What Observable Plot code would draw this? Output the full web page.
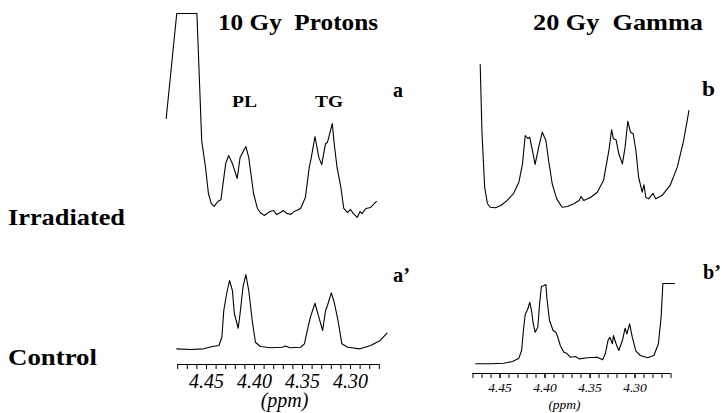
<!DOCTYPE html>
<html><head><meta charset="utf-8">
<script src="https://cdn.jsdelivr.net/npm/d3@7"></script>
<script src="https://cdn.jsdelivr.net/npm/@observablehq/plot@0.6"></script>
<style>
body{margin:0;background:#fff;}
#fig{position:relative;width:722px;height:413px;overflow:hidden;background:#fff;}
.lab{position:absolute;font-family:"Liberation Serif","Times New Roman",serif;font-weight:bold;line-height:1;white-space:pre;color:#000;transform-origin:0 0;}
.panel{position:absolute;}
</style></head><body><div id="fig"></div>
<script>
// ---- Data (chemical shift in ppm, intensity in arbitrary units) ----
// (a) 10 Gy protons, irradiated
const ppmA = [4.492,4.481,4.460,4.455,4.451,4.448,4.445,4.442,4.438,4.435,4.430,4.427,4.423,4.418,4.415,4.409,4.406,4.401,4.397,4.394,4.390,4.387,4.384,4.380,4.377,4.373,4.370,4.366,4.362,4.359,4.356,4.352,4.347,4.343,4.341,4.337,4.333,4.330,4.326,4.324,4.319,4.317,4.314,4.310,4.307,4.303,4.300,4.297,4.293,4.290,4.288,4.284,4.279,4.273];
const intA = [48.8,100,100,38,24.9,12.2,7.3,5.9,8.4,9.1,26.8,30.7,26.8,19.5,29.8,35.1,29.8,12.2,4.9,2.9,1.5,2.4,3.4,3.9,1.9,2.9,3.9,2.4,2.0,3.4,3.9,4.9,10.2,24.9,29.3,40,29.8,26.3,36.6,37.1,46.3,36.6,24.9,15.1,4.9,2.9,4.4,2.4,0.5,3.4,2.4,4.9,5.4,8.3];
// (a') protons, control
const ppmA2 = [4.481,4.467,4.453,4.444,4.437,4.434,4.432,4.429,4.426,4.423,4.421,4.417,4.415,4.412,4.409,4.406,4.402,4.399,4.394,4.383,4.371,4.368,4.363,4.352,4.348,4.345,4.342,4.337,4.333,4.329,4.326,4.324,4.320,4.317,4.313,4.309,4.303,4.290,4.279,4.269,4.262];
const intA2 = [2.2,1.3,2.2,5.3,6.6,17.5,52.6,75,92.1,78.9,48.7,29.3,48.7,83.3,100,78.9,35.5,10.9,5.3,3.6,4.3,5.9,3.6,4.3,8.8,26.3,43,62.2,43.8,26.3,52.6,59.2,75.9,63.6,39.5,8.8,4.3,2.2,6.6,13.2,22.8];
// (b) 20 Gy gamma, irradiated
const ppmB = [4.472,4.470,4.467,4.464,4.461,4.455,4.449,4.442,4.435,4.429,4.425,4.422,4.419,4.417,4.414,4.411,4.407,4.403,4.399,4.396,4.392,4.387,4.381,4.375,4.368,4.362,4.360,4.357,4.349,4.342,4.335,4.329,4.326,4.324,4.321,4.318,4.314,4.311,4.308,4.305,4.302,4.299,4.296,4.292,4.290,4.288,4.285,4.280,4.277,4.270,4.261,4.253,4.246,4.240];
const intB = [100,52.1,14.6,3.5,0.9,0.5,2.1,5.6,10.4,18.3,31.0,50.7,48.6,49.5,40.3,30.6,42.6,53.0,47.2,33.3,17.2,6.7,0.9,1.4,3.3,5.6,8.3,5.6,7.8,11.3,19.4,40.3,54.7,48.4,47.7,38.0,31.0,42.6,60.6,53.0,51.9,40.3,21.7,11.3,16.5,7.8,6.7,10.6,6.7,9.0,16.0,28.7,47.2,68.1];
// (b') gamma, control
const ppmB2 = [4.477,4.461,4.446,4.436,4.429,4.426,4.424,4.422,4.419,4.417,4.415,4.413,4.411,4.408,4.406,4.404,4.401,4.399,4.398,4.395,4.391,4.388,4.386,4.383,4.379,4.376,4.372,4.366,4.362,4.353,4.342,4.336,4.333,4.330,4.328,4.325,4.324,4.321,4.318,4.314,4.311,4.309,4.306,4.303,4.299,4.294,4.286,4.279,4.274,4.271,4.269,4.264,4.256];
const intB2 = [0.9,0.9,1.6,3.7,7.8,17.3,42.0,61.7,68.8,76.9,66.7,50.2,39.9,46.0,74.9,96.3,97.5,98.8,83.1,54.3,42.0,39.9,34.6,23.5,15.2,14.0,9.0,9.9,7.0,8.3,9.0,5.8,13.2,29.6,33.7,25.6,35.8,25.6,17.3,29.6,44.8,37.9,50.2,33.7,16.4,11.1,8.3,11.1,25.6,58.4,100,100,100];
// axis ticks
const majorTicks = [4.45, 4.40, 4.35, 4.30];
const minorTicksLeft = d3.range(427, 449).map(d => d / 100);
const minorTicksRight = d3.range(426, 449).map(d => d / 100);
const axisLabel = "(ppm)";

const fig = document.getElementById("fig");
const serif = "'Liberation Serif','Times New Roman',serif";

function panel(c) {
  const data = c.ppm.map((p, k) => ({ppm: p, i: c.inten[k]}));
  const marks = [Plot.line(data, {x: "ppm", y: "i", stroke: "#000", strokeWidth: 1.1})];
  if (c.ticks) {
    const t = c.ticks;
    marks.push(Plot.ruleY([{y: c.yDomain[0], x1: d3.max(t), x2: d3.min(t)}], {y: "y", x1: "x1", x2: "x2", stroke: "#000", strokeWidth: 1}));
    marks.push(Plot.axisX(t, {tickSize: c.tickSize, tickFormat: () => "", label: null}));
    marks.push(Plot.axisX(majorTicks, {tickSize: c.tickSize, tickPadding: c.tickPadding, tickFormat: d => d.toFixed(2), fontSize: c.fontSize, fontStyle: "italic", fontFamily: serif, label: null}));
    marks.push(Plot.text([axisLabel], {frameAnchor: "bottom", text: d => d, dx: c.labelDx, dy: c.labelDy, fontSize: c.labelSize, fontStyle: "italic", fontFamily: serif, fill: "#000"}));
  }
  const svg = Plot.plot({
    width: c.width, height: c.height,
    marginLeft: c.mL, marginRight: c.mR, marginTop: c.mT, marginBottom: c.mB,
    x: {domain: c.xDomain, label: null, ...(c.ticks ? {} : {axis: null})},
    y: {domain: c.yDomain, axis: null},
    style: {fontFamily: serif, fontSize: (c.fontSize || 12) + "px", fontStyle: "italic", background: "transparent", overflow: "visible", color: "#000"},
    marks
  });
  const div = document.createElement("div");
  div.className = "panel";
  div.style.left = c.left + "px";
  div.style.top = c.top + "px";
  div.appendChild(svg);
  fig.appendChild(div);
}

panel({ppm: ppmA, inten: intA, left: 150, top: 0, width: 260, height: 230, mL: 8, mR: 12, mT: 13, mB: 12, xDomain: [4.50, 4.25], yDomain: [0, 100]});
panel({ppm: ppmA2, inten: intA2, left: 150, top: 250, width: 260, height: 163, mL: 8, mR: 12, mT: 24, mB: 49, xDomain: [4.50, 4.25], yDomain: [-18.4, 100],
  ticks: minorTicksLeft, tickSize: 5, tickPadding: 4, fontSize: 20, labelDx: 6, labelDy: 42, labelSize: 20});
panel({ppm: ppmB, inten: intB, left: 444, top: 0, width: 270, height: 230, mL: 10.5, mR: 16.5, mT: 64, mB: 22, xDomain: [4.50, 4.23], yDomain: [0, 100]});
panel({ppm: ppmB2, inten: intB2, left: 444, top: 250, width: 270, height: 163, mL: 10.5, mR: 16.5, mT: 33, mB: 40, xDomain: [4.50, 4.23], yDomain: [-11.1, 100],
  ticks: minorTicksRight, tickSize: 5, tickPadding: 4, fontSize: 13.5, labelDx: -12, labelDy: 35, labelSize: 13.5});

function label(text, left, baseline, size, targetW) {
  const d = document.createElement("div");
  d.className = "lab";
  d.textContent = text;
  d.style.fontSize = size + "px";
  d.style.left = left + "px";
  d.style.top = (baseline - 0.8375 * size) + "px";
  fig.appendChild(d);
  if (targetW) {
    const w = d.getBoundingClientRect().width;
    if (w > 0) d.style.transform = "scaleX(" + (targetW / w) + ")";
  }
}
label("10 Gy  Protons", 218, 30, 24, 160);
label("20 Gy  Gamma", 533, 30, 24, 170);
label("PL", 232, 107, 16, 25);
label("TG", 315, 107, 16, 28);
label("a", 393, 98, 21, 10);
label("b", 702, 97, 21, 13);
label("a\u2019", 393, 283, 21, 17);
label("b\u2019", 703, 280, 21, 18);
label("Irradiated", 8, 225, 24, 117);
label("Control", 8, 365, 24, 89);
</script>
</body></html>
